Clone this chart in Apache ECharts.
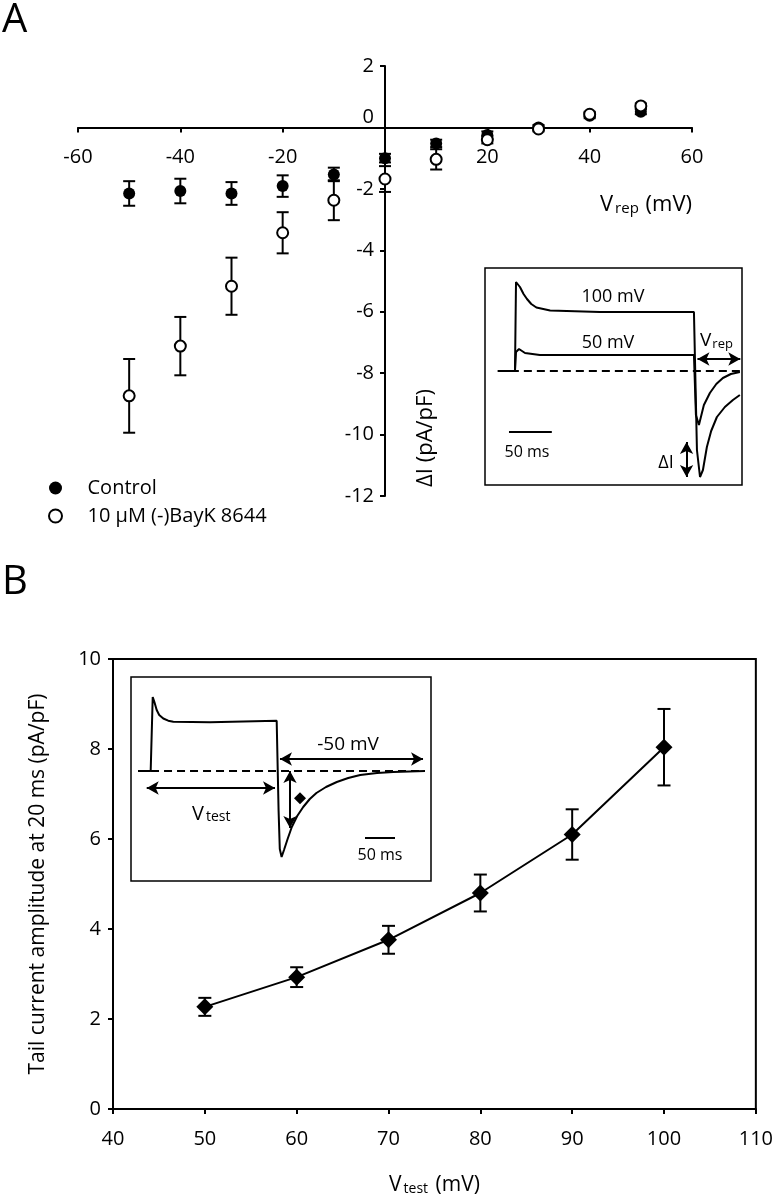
<!DOCTYPE html>
<html><head><meta charset="utf-8">
<script src="https://cdn.jsdelivr.net/npm/echarts@6/dist/echarts.min.js"></script>
<style>html,body{margin:0;padding:0;background:#fff}#c{width:776px;height:1200px}</style>
</head><body><div id="c"></div><script>
// ---------- Panel A: tail current vs repolarisation potential ----------
const vrep = [-50, -40, -30, -20, -10, 0, 10, 20, 30, 40, 50];
const controlMean = [-2.15, -2.07, -2.15, -1.91, -1.53, -1.0, -0.52, -0.25, 0.0, 0.38, 0.51];
const controlSem  = [0.40, 0.40, 0.37, 0.35, 0.22, 0.14, 0.12, 0.12, 0.08, 0.08, 0.08];
const bayKMean = [-8.74, -7.12, -5.17, -3.43, -2.37, -1.68, -1.04, -0.40, -0.05, 0.43, 0.70];
const bayKSem  = [1.20, 0.95, 0.93, 0.67, 0.65, 0.42, 0.33, 0.12, 0.08, 0.08, 0.08];
const seriesNamesA = ['Control', '10 μM (-)BayK 8644'];
const xRangeA = [-60, 60], yRangeA = [-12, 2];

// ---------- Panel B: tail current amplitude vs test potential ----------
const vtest = [50, 60, 70, 80, 90, 100];
const tailMean = [2.27, 2.93, 3.76, 4.80, 6.10, 8.04];
const tailSem  = [0.20, 0.22, 0.31, 0.41, 0.56, 0.85];

// ---------- Inset A: schematic current traces (time ms, current a.u.) ----------
const insetA_trace100 = [[15,0],[35,0],[36.2,89],[38.5,87],[40.8,84],[45,77],[49,72],[54,67],[60,63.5],[76,60.5],[134,59],[243.9,59],[247.4,-79],[251,-106],[254.4,-99],[259,-76],[264,-60],[270.7,-46],[280,-36],[289.4,-29],[297.5,-24]];
const insetA_trace50  = [[15,0],[35,0],[36.2,19],[39.7,22],[46.7,18],[64,16],[243.9,16],[246.2,-44],[249.7,-54],[255.5,-34],[262.5,-22],[270,-13],[277.7,-7],[287,-3],[297.5,-1]];
const insetA_base = [[15,0],[297.5,0]];

// ---------- Inset B: schematic current trace ----------
const insetB_trace = [[11.7,0],[32.8,0],[36.2,74],[39,69],[42.8,61],[47,56],[53.8,52.5],[62,50.3],[70.5,49.3],[131.7,48.7],[242.8,50.3],[244,50],[246,-40],[248,-78],[251,-86],[255,-79],[261,-68],[268,-56],[277,-45],[287,-36],[298,-28],[309,-22],[325,-16],[343,-11],[362,-7],[382,-4],[410,-2],[437,-1],[490,0]];
const insetB_base = [[11.7,0],[490,0]];
const insetB_marker = [[281.7,-27.3]];

const FONT = 'Open Sans';
const BLACK = '#000';
const gridA = { left: 78, top: 66, width: 614, height: 430 };
// place the crossing axes at the zero of the other axis (labels follow the line)
const xAxisOffsetA = -gridA.height * (0 - yRangeA[0]) / (yRangeA[1] - yRangeA[0]);
const yAxisOffsetA = -gridA.width * (0 - xRangeA[0]) / (xRangeA[1] - xRangeA[0]);

function errorBars(xs, means, sems, xi, yi, capHalf) {
  return {
    type: 'custom', xAxisIndex: xi, yAxisIndex: yi, z: 2, silent: true,
    data: xs.map((x, i) => [x, means[i] - sems[i], means[i] + sems[i]]),
    encode: { x: 0, y: [1, 2] },
    renderItem(params, api) {
      const lo = api.coord([api.value(0), api.value(1)]);
      const hi = api.coord([api.value(0), api.value(2)]);
      const st = { stroke: BLACK, lineWidth: 2, fill: null };
      return { type: 'group', children: [
        { type: 'line', shape: { x1: lo[0], y1: lo[1], x2: hi[0], y2: hi[1] }, style: st },
        { type: 'line', shape: { x1: lo[0] - capHalf, y1: lo[1], x2: lo[0] + capHalf, y2: lo[1] }, style: st },
        { type: 'line', shape: { x1: hi[0] - capHalf, y1: hi[1], x2: hi[0] + capHalf, y2: hi[1] }, style: st }
      ]};
    }
  };
}

const axisLineStyle = { color: BLACK, width: 2 };
const hiddenAxis = (gi, min, max) => ({ type: 'value', gridIndex: gi, min, max, show: false, splitLine: { show: false } });
const arrowLine = (p1, p2) => [{ coord: p1, symbol: 'arrow' }, { coord: p2, symbol: 'arrow' }];
const plainLine = (p1, p2) => [{ coord: p1, symbol: 'none' }, { coord: p2, symbol: 'none' }];
const mlStyle = { color: BLACK, width: 2, type: 'solid' };

const txt = (text, x, y, size, extra) => ({
  type: 'text', x, y, silent: true,
  style: Object.assign({ text, fontSize: size, fontFamily: FONT, fill: BLACK, align: 'center', verticalAlign: 'middle' }, extra || {})
});

const option = {
  animation: false,
  backgroundColor: '#fff',
  textStyle: { fontFamily: FONT, color: BLACK },
  grid: [
    Object.assign({ show: false }, gridA),
    { left: 113, top: 659, width: 646, height: 450, show: true, borderColor: BLACK, borderWidth: 2, backgroundColor: 'transparent' },
    { left: 485, top: 268, width: 257, height: 217, show: true, borderColor: BLACK, borderWidth: 1.5, backgroundColor: '#fff' },
    { left: 131, top: 677, width: 300, height: 204, show: true, borderColor: BLACK, borderWidth: 1.5, backgroundColor: '#fff' }
  ],
  legend: {
    data: seriesNamesA, orient: 'vertical', left: 43, top: 473,
    itemWidth: 40, itemHeight: 13, itemGap: 8,
    textStyle: { fontSize: 20, fontFamily: FONT, color: BLACK, padding: [0, 0, 0, 7] }
  },
  xAxis: [
    { type: 'value', gridIndex: 0, min: xRangeA[0], max: xRangeA[1], interval: 20,
      position: 'bottom', offset: xAxisOffsetA,
      axisLine: { onZero: false, lineStyle: axisLineStyle },
      axisTick: { length: 5, lineStyle: axisLineStyle },
      axisLabel: { fontSize: 20, color: BLACK, margin: 20, formatter: v => v === 0 ? '' : String(v) },
      splitLine: { show: false } },
    { type: 'value', gridIndex: 1, min: 40, max: 110, interval: 10,
      axisLine: { onZero: false, lineStyle: axisLineStyle },
      axisTick: { length: 5, lineStyle: axisLineStyle },
      axisLabel: { fontSize: 20, color: BLACK, margin: 20 },
      splitLine: { show: false },
      name: 'V{s|test} (mV)', nameLocation: 'middle', nameGap: 66,
      nameTextStyle: { fontSize: 21, color: BLACK, fontFamily: FONT,
        rich: { s: { fontSize: 14, fontFamily: FONT, verticalAlign: 'bottom', lineHeight: 14, padding: [10, 2, 0, 2] } } } },
    hiddenAxis(2, 0, 300),
    hiddenAxis(3, 0, 500)
  ],
  yAxis: [
    { type: 'value', gridIndex: 0, min: yRangeA[0], max: yRangeA[1], interval: 2,
      position: 'left', offset: yAxisOffsetA,
      axisLine: { onZero: false, lineStyle: axisLineStyle },
      axisTick: { length: 5, lineStyle: axisLineStyle },
      axisLabel: { fontSize: 20, color: BLACK, margin: 11,
        formatter: v => v === 0 ? '{z|0}' : String(v),
        rich: { z: { fontSize: 20, fontFamily: FONT, color: BLACK, padding: [0, 0, 20, 0] } } },
      splitLine: { show: false } },
    { type: 'value', gridIndex: 1, min: 0, max: 10, interval: 2,
      axisLine: { onZero: false, lineStyle: axisLineStyle },
      axisTick: { length: 5, lineStyle: axisLineStyle },
      axisLabel: { fontSize: 20, color: BLACK, margin: 12 },
      splitLine: { show: false },
      name: 'Tail current amplitude at 20 ms (pA/pF)', nameLocation: 'middle', nameGap: 64,
      nameTextStyle: { fontSize: 21, color: BLACK, fontFamily: FONT } },
    hiddenAxis(2, -114, 103),
    hiddenAxis(3, -110, 94)
  ],
  series: [
    // Panel A
    errorBars(vrep, bayKMean, bayKSem, 0, 0, 6),
    errorBars(vrep, controlMean, controlSem, 0, 0, 6),
    { name: seriesNamesA[0], type: 'scatter', xAxisIndex: 0, yAxisIndex: 0, z: 3,
      symbol: 'circle', symbolSize: 12, itemStyle: { color: BLACK, opacity: 1 },
      data: vrep.map((x, i) => [x, controlMean[i]]) },
    { name: seriesNamesA[1], type: 'scatter', xAxisIndex: 0, yAxisIndex: 0, z: 4,
      symbol: 'circle', symbolSize: 11, itemStyle: { color: '#fff', borderColor: BLACK, borderWidth: 2, opacity: 1 },
      data: vrep.map((x, i) => [x, bayKMean[i]]) },
    // Panel B
    errorBars(vtest, tailMean, tailSem, 1, 1, 6.5),
    { type: 'line', xAxisIndex: 1, yAxisIndex: 1, z: 3,
      symbol: 'diamond', symbolSize: 17, itemStyle: { color: BLACK, opacity: 1 },
      lineStyle: { color: BLACK, width: 2 },
      data: vtest.map((x, i) => [x, tailMean[i]]) },
    // Inset A
    { type: 'line', xAxisIndex: 2, yAxisIndex: 2, z: 5, symbol: 'none', silent: true,
      lineStyle: { color: BLACK, width: 2, type: [8, 5] }, data: insetA_base,
      markLine: { silent: true, symbolSize: [10, 12], label: { show: false }, lineStyle: mlStyle,
        data: [ arrowLine([248, 12], [298, 12]), arrowLine([235.3, -71], [235.3, -106]) ] } },
    { type: 'line', xAxisIndex: 2, yAxisIndex: 2, z: 5, symbol: 'none', silent: true,
      lineStyle: { color: BLACK, width: 2 }, data: insetA_trace100,
      markLine: { silent: true, label: { show: false }, lineStyle: mlStyle,
        data: [ plainLine([28, -61], [78, -61]) ] } },
    { type: 'line', xAxisIndex: 2, yAxisIndex: 2, z: 5, symbol: 'none', silent: true,
      lineStyle: { color: BLACK, width: 2 }, data: insetA_trace50 },
    // Inset B
    { type: 'line', xAxisIndex: 3, yAxisIndex: 3, z: 5, symbol: 'none', silent: true,
      lineStyle: { color: BLACK, width: 2, type: [8, 5] }, data: insetB_base,
      markLine: { silent: true, symbolSize: [10, 12], label: { show: false }, lineStyle: mlStyle,
        data: [ arrowLine([248.3, 12], [486.7, 12]), arrowLine([26.2, -17], [240, -17]), arrowLine([265, 0], [265, -57]) ] } },
    { type: 'line', xAxisIndex: 3, yAxisIndex: 3, z: 5, symbol: 'none', silent: true,
      lineStyle: { color: BLACK, width: 2 }, data: insetB_trace,
      markLine: { silent: true, label: { show: false }, lineStyle: mlStyle,
        data: [ plainLine([390, -67], [440, -67]) ] } },
    { type: 'scatter', xAxisIndex: 3, yAxisIndex: 3, z: 6, silent: true,
      symbol: 'diamond', symbolSize: 12, itemStyle: { color: BLACK, opacity: 1 }, data: insetB_marker }
  ],
  graphic: [
    txt('A', 2, 21, 40, { align: 'left' }),
    txt('B', 2, 583, 40, { align: 'left' }),
    { type: 'text', x: 426, y: 438, rotation: Math.PI / 2, silent: true,
      style: { text: 'ΔI (pA/pF)', fontSize: 22, fontFamily: FONT, fill: BLACK, align: 'center', verticalAlign: 'middle' } },
    { type: 'text', x: 600, y: 205, silent: true,
      style: { text: '{v|V}{s|rep}{v| (mV)}', align: 'left', verticalAlign: 'middle', fill: BLACK,
        rich: { v: { fontSize: 22, fontFamily: FONT, lineHeight: 22, verticalAlign: 'top' },
                s: { fontSize: 15, fontFamily: FONT, lineHeight: 16, padding: [10, 1, 0, 2], verticalAlign: 'bottom' } } } },
    // inset A texts
    txt('100 mV', 613, 297, 18),
    txt('50 mV', 608, 343, 18),
    { type: 'text', x: 700, y: 341, silent: true,
      style: { text: '{v|V}{s|rep}', align: 'left', verticalAlign: 'middle', fill: BLACK,
        rich: { v: { fontSize: 19, fontFamily: FONT, lineHeight: 19, verticalAlign: 'top' },
                s: { fontSize: 13, fontFamily: FONT, lineHeight: 14, padding: [8, 0, 0, 1], verticalAlign: 'bottom' } } } },
    txt('50 ms', 527, 452, 16),
    txt('ΔI', 666, 463, 18),
    // inset B texts
    txt('-50 mV', 348, 745, 19),
    { type: 'text', x: 192, y: 814, silent: true,
      style: { text: '{v|V}{s|test}', align: 'left', verticalAlign: 'middle', fill: BLACK,
        rich: { v: { fontSize: 20, fontFamily: FONT, lineHeight: 20, verticalAlign: 'top' },
                s: { fontSize: 14, fontFamily: FONT, lineHeight: 14, padding: [9, 0, 0, 2], verticalAlign: 'bottom' } } } },
    txt('50 ms', 380, 855, 16)
  ]
};

const chart = echarts.init(document.getElementById('c'), null, { renderer: 'canvas' });
chart.setOption(option);
</script></body></html>
